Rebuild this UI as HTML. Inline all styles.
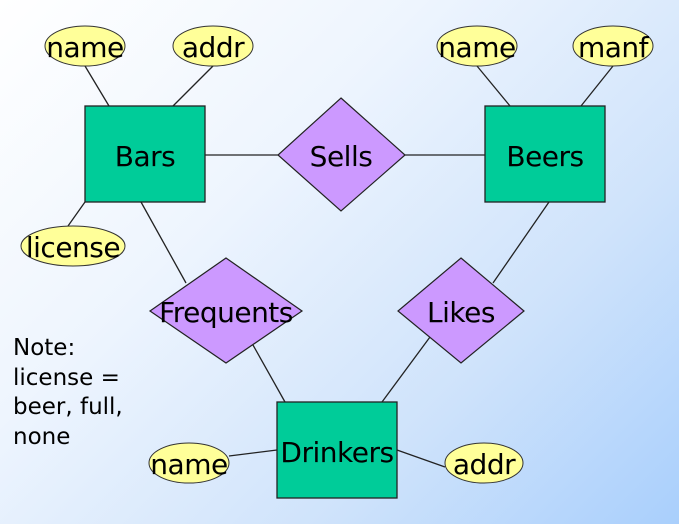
<!DOCTYPE html>
<html><head><style>
html,body{margin:0;padding:0;}
body{width:679px;height:524px;overflow:hidden;background:linear-gradient(135deg,#ffffff 0%,#eef5fe 35%,#cfe3fb 70%,#a9cffc 100%);}
svg{display:block;}
svg text{font-family:"DejaVu Sans","Liberation Sans",sans-serif;fill:#000;}
</style></head><body>
<svg width="679" height="524" xmlns="http://www.w3.org/2000/svg">
<g stroke="#222" stroke-width="1.3">
<line x1="85" y1="66" x2="109" y2="106"/>
<line x1="213" y1="66" x2="173" y2="106"/>
<line x1="85" y1="202" x2="68" y2="226"/>
<line x1="205" y1="155" x2="278" y2="155"/>
<line x1="405" y1="155" x2="485" y2="155"/>
<line x1="477" y1="66" x2="510" y2="106"/>
<line x1="613" y1="66" x2="581" y2="106"/>
<line x1="141" y1="202" x2="186" y2="283"/>
<line x1="253" y1="345" x2="285" y2="402"/>
<line x1="549" y1="202" x2="493" y2="283"/>
<line x1="430" y1="337" x2="382" y2="402"/>
<line x1="229" y1="456" x2="277" y2="450"/>
<line x1="397" y1="450" x2="445" y2="467"/>
</g>
<g fill="#ffff99" stroke="#333" stroke-width="1">
<ellipse cx="85" cy="46" rx="40" ry="20"/>
<ellipse cx="213" cy="46" rx="40" ry="20"/>
<ellipse cx="73" cy="246" rx="52" ry="20"/>
<ellipse cx="477" cy="46" rx="40" ry="20"/>
<ellipse cx="613" cy="46" rx="40" ry="20"/>
<ellipse cx="189" cy="463" rx="40" ry="20"/>
<ellipse cx="484" cy="463" rx="39" ry="20"/>
</g>
<g fill="#00cc99" stroke="#222" stroke-width="1.3">
<rect x="85" y="106" width="120" height="96"/>
<rect x="485" y="106" width="120" height="96"/>
<rect x="277" y="402" width="120" height="96"/>
</g>
<g fill="#cc99ff" stroke="#222" stroke-width="1.2">
<polygon points="341,98 405,155 341,211 278,155"/>
<polygon points="226,258 302,311 226,363 150,311"/>
<polygon points="461,258 524,311 461,363 398,311"/>
</g>
<g font-size="28" text-anchor="middle" letter-spacing="-0.5">
<text x="85" y="57">name</text>
<text x="213" y="57">addr</text>
<text x="73" y="257">license</text>
<text x="477" y="57">name</text>
<text x="613" y="57">manf</text>
<text x="189" y="474">name</text>
<text x="484" y="474">addr</text>
<text x="145" y="166">Bars</text>
<text x="545" y="166">Beers</text>
<text x="337" y="462">Drinkers</text>
<text x="341" y="166">Sells</text>
<text x="226" y="322">Frequents</text>
<text x="461" y="322">Likes</text>
</g>
<g font-size="23">
<text x="13" y="355">Note:</text>
<text x="13" y="385">license =</text>
<text x="13" y="414">beer, full,</text>
<text x="13" y="444">none</text>
</g>
</svg>
</body></html>
